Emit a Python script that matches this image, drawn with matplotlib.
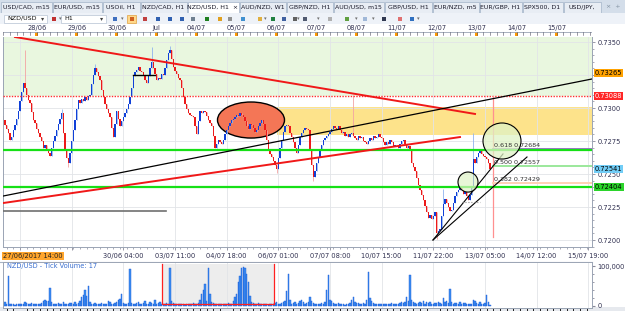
import numpy as np
import matplotlib.pyplot as plt
from matplotlib.patches import Ellipse, Rectangle

plt.rcParams['font.family'] = 'DejaVu Sans'

W, H = 625, 311

# NZD/USD H1 closes from 27/06/2017 14:00
closes = [
    0.7291, 0.7287, 0.7284, 0.7281, 0.7276, 0.7278, 0.7283, 0.7287, 0.7292, 0.7298,
    0.7305, 0.7312, 0.7319, 0.7315, 0.7310, 0.7306, 0.7304, 0.7297, 0.7291, 0.7289,
    0.7284, 0.7281, 0.7278, 0.7275, 0.7270, 0.7272, 0.7268, 0.7266, 0.7264, 0.7270,
    0.7275, 0.7279, 0.7283, 0.7288, 0.7292, 0.7296, 0.7281, 0.7268, 0.7262, 0.7258,
    0.7266, 0.7275, 0.7283, 0.7291, 0.7299, 0.7306, 0.7304, 0.7307, 0.7305, 0.7308,
    0.7306, 0.7309, 0.7310, 0.7318, 0.7325, 0.7330, 0.7327, 0.7324, 0.7321, 0.7314,
    0.7308, 0.7303, 0.7299, 0.7296, 0.7293, 0.7285, 0.7278, 0.7288, 0.7298, 0.7292,
    0.7286, 0.7290, 0.7293, 0.7296, 0.7299, 0.7303, 0.7308, 0.7315, 0.7324, 0.7327,
    0.7329, 0.7331, 0.7328, 0.7327, 0.7325, 0.7321, 0.7319, 0.7324, 0.7330, 0.7335,
    0.7330, 0.7326, 0.7321, 0.7323, 0.7322, 0.7326, 0.7325, 0.7330, 0.7336, 0.7342,
    0.7344, 0.7337, 0.7331, 0.7328, 0.7326, 0.7323, 0.7321, 0.7315, 0.7308, 0.7303,
    0.7299, 0.7296, 0.7295, 0.7294, 0.7293, 0.7286, 0.7280, 0.7290, 0.7298, 0.7296,
    0.7298, 0.7297, 0.7294, 0.7291, 0.7289, 0.7286, 0.7279, 0.7270, 0.7273, 0.7276,
    0.7274, 0.7273, 0.7276, 0.7280, 0.7283, 0.7286, 0.7289, 0.7291, 0.7292, 0.7293,
    0.7295, 0.7294, 0.7296, 0.7295, 0.7293, 0.7290, 0.7286, 0.7284, 0.7288, 0.7287,
    0.7285, 0.7282, 0.7283, 0.7286, 0.7289, 0.7291, 0.7288, 0.7283, 0.7276, 0.7268,
    0.7265, 0.7263, 0.7260, 0.7257, 0.7254, 0.7262, 0.7270, 0.7276, 0.7282, 0.7286,
    0.7287, 0.7286, 0.7281, 0.7278, 0.7274, 0.7270, 0.7266, 0.7272, 0.7278, 0.7281,
    0.7283, 0.7285, 0.7284, 0.7283, 0.7268, 0.7257, 0.7248, 0.7252, 0.7258, 0.7263,
    0.7268, 0.7272, 0.7276, 0.7277, 0.7279, 0.7280, 0.7282, 0.7284, 0.7286, 0.7285,
    0.7284, 0.7286, 0.7283, 0.7281, 0.7282, 0.7279, 0.7280, 0.7278, 0.7280, 0.7281,
    0.7279, 0.7277, 0.7276, 0.7279, 0.7277, 0.7278, 0.7275, 0.7274, 0.7273, 0.7275,
    0.7277, 0.7276, 0.7279, 0.7277, 0.7278, 0.7280, 0.7278, 0.7277, 0.7274, 0.7272,
    0.7274, 0.7273, 0.7276, 0.7274, 0.7271, 0.7272, 0.7272, 0.7270, 0.7273, 0.7275,
    0.7276, 0.7273, 0.7270, 0.7271, 0.7268, 0.7258, 0.7255, 0.7252, 0.7247, 0.7242,
    0.7238, 0.7234, 0.7230, 0.7226, 0.7221, 0.7217, 0.7219, 0.7216, 0.7218, 0.7221,
    0.7205, 0.7207, 0.7208, 0.7218, 0.7227, 0.7231, 0.7228, 0.7225, 0.7222, 0.7223,
    0.7228, 0.7233, 0.7236, 0.7238, 0.7240, 0.7238, 0.7235, 0.7236, 0.7233, 0.7230,
    0.7234, 0.7240, 0.7261, 0.7258, 0.7263, 0.7266, 0.7268, 0.7265, 0.7264, 0.7263,
    0.7261, 0.7258, 0.72541,
]
first_open = 0.7294
wick_high = {13: 0.7344, 35: 0.7299, 55: 0.7333, 89: 0.7346, 100: 0.7347,
             210: 0.7310, 264: 0.7239, 282: 0.7281}
wick_low = {39: 0.7255, 164: 0.7251, 186: 0.7245, 260: 0.7201}

# tick volume, thousands
volume_k = [
    8, 10, 5, 75, 6, 4, 5, 3, 4, 6,
    5, 4, 6, 9, 7, 5, 4, 8, 6, 5,
    4, 6, 5, 8, 12, 14, 13, 12, 45, 10,
    6, 5, 4, 7, 5, 6, 9, 5, 4, 6,
    8, 7, 5, 10, 6, 8, 12, 22, 28, 40,
    25, 50, 9, 6, 5, 7, 4, 6, 5, 8,
    6, 4, 5, 12, 9, 6, 5, 7, 10, 14,
    18, 30, 8, 6, 5, 7, 92, 8, 6, 5,
    7, 10, 6, 5, 8, 12, 6, 4, 9, 7,
    5, 14, 6, 8, 10, 5, 6, 4, 7, 5,
    95, 12, 8, 6, 5, 4, 6, 5, 4, 3,
    5, 6, 4, 5, 7, 4, 5, 8, 15, 30,
    40, 55, 12, 95, 30, 10, 8, 5, 6, 4,
    5, 4, 6, 5, 4, 7, 6, 5, 12, 22,
    30, 60, 75, 95, 97, 95, 80, 60, 25, 10,
    8, 6, 5, 7, 4, 5, 6, 4, 5, 3,
    4, 6, 5, 8, 10, 5, 4, 7, 9, 12,
    38, 80, 14, 6, 8, 10, 5, 7, 12, 15,
    9, 6, 8, 10, 22, 12, 8, 5, 6, 4,
    5, 7, 6, 9, 40, 77, 15, 12, 8, 6,
    5, 7, 6, 4, 5, 3, 6, 5, 7, 15,
    22, 10, 8, 7, 6, 5, 8, 6, 15, 85,
    20, 12, 8, 6, 5, 4, 6, 5, 4, 5,
    6, 4, 5, 7, 5, 6, 4, 5, 8, 10,
    7, 9, 22, 12, 77, 15, 10, 8, 6, 7,
    9, 8, 12, 6, 10, 7, 9, 6, 5, 8,
    7, 10, 8, 6, 20, 9, 12, 8, 42, 10,
    6, 8, 7, 5, 9, 6, 8, 7, 5, 6,
    5, 4, 15, 12, 8, 6, 9, 6, 5, 7,
    27, 10, 3,
]

price_ticks = [0.7200, 0.7225, 0.7250, 0.7275, 0.7300, 0.7325, 0.7350]
price_labels = ['0.7200', '0.7225', '0.7250', '0.7275', '0.7300', '', '0.7350']  # 0.7325 hidden under marker
grid_bars = [10, 41, 72, 103, 134, 165, 196, 227, 258, 289, 320, 351]
bottom_labels = ['', '', '30/06 04:00', '03/07 11:00', '04/07 18:00', '06/07 01:00',
                 '07/07 08:00', '10/07 15:00', '11/07 22:00', '13/07 05:00',
                 '14/07 12:00', '15/07 19:00']
day_bars = [20, 44, 68, 92, 116, 140, 164, 188, 212, 236, 260, 284, 308, 332]
top_labels = ['28/06', '29/06', '30/06', 'Jul', '04/07', '05/07', '06/07', '07/07',
              '08/07', '11/07', '12/07', '13/07', '14/07', '15/07']

# drawings on the chart
red_dotted = 0.73088
supply_zone = (0.72795, 0.73008)
green_levels = [0.72684, 0.72404]
fib_levels = [('0.618', 0.72684, '#a070d0'), ('0.500', 0.72557, '#9be89b'), ('0.382', 0.72429, '#ffd2b4')]
red_down = ([7.0, 283.0], [0.73538, 0.72955])
red_up = ([-0.2, 274.0], [0.72280, 0.72780])
black_up = ([-0.2, 353.2], [0.72333, 0.73220])
fan_a = ([257.8, 299.8], [0.72000, 0.72652])
fan_b = ([257.8, 314.2], [0.72000, 0.72629])
short_black = ([77.8, 91.0], [0.73250, 0.73250])
gray_line = ([-0.2, 97.6], [0.72220, 0.72220])
marker_labels = [('0.73265', 0.73265, '#ffa200', 'black'), ('0.73088', 0.73088, '#ff2626', 'white'),
                 ('0.72541', 0.72541, '#72cdf6', 'black'), ('0.72404', 0.72404, '#2bd42b', 'black')]

tabs = ['USD/CAD, m15', 'EUR/USD, m15', 'USOil, H1', 'NZD/CAD, H1', 'NZD/USD, H1  \u00d7',
        'AUD/NZD, W1', 'GBP/NZD, H1', 'AUD/USD, m15', 'GBP/USD, H1', 'EUR/NZD, m5',
        'EUR/GBP, H1', 'SPX500, D1', 'USD/JPY,']
tab_edges = [0, 52, 102, 140, 187, 239, 286, 333, 384, 432, 479, 522, 563, 601]

fig = plt.figure(figsize=(W / 100, H / 100), dpi=100, facecolor='white')

# window chrome
bg = fig.add_axes([0, 0, 1, 1])
bg.set_xlim(0, W); bg.set_ylim(H, 0); bg.axis('off')
bg.add_patch(Rectangle((0, 0), W, 13, fc='#d4deea', ec='none'))
for k, name in enumerate(tabs):
    x0, x1 = tab_edges[k], tab_edges[k + 1]
    active = name.startswith('NZD/USD')
    bg.add_patch(Rectangle((x0 + 0.5, 1.5), x1 - x0 - 1, 11.5, fc='white' if active else '#e8edf4',
                           ec='#a3b3c8', lw=0.5))
    bg.text((x0 + x1) / 2, 7.3, name, fontsize=4.5, ha='center', va='center', color='#1a1a2a')
bg.text(606, 6, '\u00d7  +', fontsize=4.5, color='#8090a0', va='center')
bg.add_patch(Rectangle((0, 13), W, 11, fc='#eef2f8', ec='none'))
for x0, x1, txt in [(4, 47, 'NZD/USD'), (61, 106, 'H1')]:
    bg.add_patch(Rectangle((x0, 14.5), x1 - x0, 8, fc='white', ec='#b8c4d4', lw=0.5))
    bg.text(x0 + 3, 18.5, txt, fontsize=4.6, va='center', color='#101010')
    bg.text(x1 - 4, 18.7, '\u25be', fontsize=4.5, va='center', ha='center', color='#404040')
bg.add_patch(Rectangle((127, 14.5), 9, 8, fc='#ffd88a', ec='#e0a040', lw=0.5))
icon_x = [52, 113, 130, 143, 156, 168, 180, 191, 205, 218, 228, 241, 258, 271, 282, 293,
          303, 328, 345, 363, 382, 398, 410]
icon_c = ['#c03030', '#4070c0', '#d06020', '#c04040', '#3060b0', '#3060b0', '#3060b0', '#708090',
          '#208020', '#e0a020', '#909090', '#4090d0', '#e0b040', '#208040', '#4060a0', '#606060',
          '#505a70', '#b0b0b0', '#60a040', '#a0b8d8', '#303850', '#e07070', '#3070c0']
for xi, ci in zip(icon_x, icon_c):
    bg.add_patch(Rectangle((xi, 16.5), 4, 4, fc=ci, ec='none'))
for xi in [60, 122, 265, 298, 318, 356, 373, 418]:
    bg.text(xi, 18.7, '\u25be', fontsize=3.8, va='center', ha='center', color='#707070')
bg.add_patch(Rectangle((0, 24), W, 13, fc='white', ec='none'))
bg.add_patch(Rectangle((0, 307), W, 4, fc='#e6e9ee', ec='none'))
bg.plot([0, 592], [261.5, 261.5], color='#a8b4c4', lw=0.8)

x = np.arange(len(closes))
closes_a = np.array(closes)
opens = np.r_[first_open, closes_a[:-1]]
highs = np.maximum(opens, closes_a)
lows = np.minimum(opens, closes_a)
for i, v in wick_high.items():
    highs[i] = v
for i, v in wick_low.items():
    lows[i] = v
up = closes_a >= opens

# price pane
ax = fig.add_axes([3 / W, (H - 247) / H, 589 / W, 210 / H])
ax.set_xlim(-0.2, 353.2)
ax.set_ylim(0.71947, 0.73538)
ax.set_axisbelow(True)
ax.grid(True, color='#e2e4e8', lw=0.6)
ax.axhspan(red_dotted, 0.74, color='#e9f7df', zorder=0.1, lw=0)
ax.fill_between([164.2, 353.2], supply_zone[0], supply_zone[1], color='#fde38b', zorder=0.2, lw=0)
ax.add_patch(Ellipse((148.6, 0.72909), 40.2, 0.00273, fc='#f47656', ec='black', lw=1, zorder=1))

ax.vlines(x[up], lows[up], highs[up], color='#8fb2ee', lw=0.6, zorder=2)
ax.vlines(x[~up], lows[~up], highs[~up], color='#f3a3a3', lw=0.6, zorder=2)
body = np.maximum(np.abs(closes_a - opens), 0.00003)
ax.bar(x[up], body[up], bottom=opens[up], width=0.7, color='#1040d8', lw=0, zorder=2.2)
ax.bar(x[~up], body[~up], bottom=closes_a[~up], width=0.7, color='#ec1a1a', lw=0, zorder=2.2)

ax.axhline(red_dotted, color='#ff3030', ls=(0, (1, 1)), lw=1, zorder=3)
for lvl in green_levels:
    ax.axhline(lvl, color='#16e016', lw=1.6, zorder=3.2)
for name, lvl, col in fib_levels:
    ax.plot([293.8, 353.2], [lvl + 0.00005, lvl + 0.00005], color=col, lw=1.4, zorder=3.1)
    ax.text(294.5, lvl + 0.00012, f'{name} {lvl:.5f}', fontsize=4.6, color='#303030',
            va='bottom', zorder=5)
ax.plot([293.8, 293.8], [red_dotted, 0.72023], color='#ff9090', lw=0.9, zorder=3)
ax.plot(*red_down, color='#f01818', lw=1.4, zorder=3.3)
ax.plot(*red_up, color='#f01818', lw=1.4, zorder=3.3)
ax.plot(*black_up, color='black', lw=0.9, zorder=3.4)
ax.plot(*fan_a, color='black', lw=0.8, zorder=3.4)
ax.plot(*fan_b, color='black', lw=0.8, zorder=3.4)
ax.plot(*short_black, color='black', lw=1.0, zorder=3.4)
ax.plot(*gray_line, color='#707070', lw=1.2, zorder=3.4)
ax.plot([275, 286], [0.72288, 0.72288], color='#909090', lw=0.8, ls=':', zorder=3.4)
ax.add_patch(Ellipse((299.2, 0.72750), 22.8, 0.00273, fc='#dff3c6', ec='none', alpha=0.75, zorder=4))
ax.add_patch(Ellipse((299.2, 0.72750), 22.8, 0.00273, fc='none', ec='black', lw=0.8, zorder=4))
ax.add_patch(Ellipse((278.8, 0.72439), 12.0, 0.00152, fc='#dff3c6', ec='none', alpha=0.7, zorder=4))
ax.add_patch(Ellipse((278.8, 0.72439), 12.0, 0.00152, fc='none', ec='black', lw=0.8, zorder=4))

ax.yaxis.tick_right()
ax.set_yticks(price_ticks)
ax.set_yticklabels(price_labels)
ax.set_yticks(np.arange(0.7195, 0.7354, 0.0005), minor=True)
ax.set_xticks(grid_bars)
ax.set_xticklabels(bottom_labels)
ax.set_xticks(np.arange(2, 353, 4), minor=True)
ax.tick_params(axis='both', which='major', labelsize=4.8, labelcolor='#303050', color='#8a8a9a',
               length=2.5, width=0.6, pad=1.5)
ax.tick_params(axis='both', which='minor', length=1.3, width=0.5, color='#8a8a9a')
ax.tick_params(axis='x', pad=2)
for s in ax.spines.values():
    s.set_color('#9aa4b4'); s.set_linewidth(0.7)
ax.spines['top'].set_visible(False)
ax.text(0, -0.043, '27/06/2017 14:00', transform=ax.transAxes, fontsize=4.8, ha='left', va='center',
        color='#202020', bbox=dict(boxstyle='square,pad=0.15', fc='#ffa52c', ec='none'))
for txt, lvl, fc, tc in marker_labels:
    ax.text(1.005, lvl, txt, transform=ax.get_yaxis_transform(), fontsize=4.8, ha='left', va='center',
            color=tc, bbox=dict(boxstyle='square,pad=0.15', fc=fc, ec='none'), zorder=6, clip_on=False)

# time ruler on top
axt = fig.add_axes([3 / W, (H - 37) / H, 589 / W, 13 / H], sharex=ax)
axt.axis('off')
axt.plot([-0.2, 353.2], [0.38, 0.38], color='#9aa4b4', lw=0.6)
for b in np.arange(0, 354, 4):
    axt.plot([b, b], [0.38, 0.12], color='#505060', lw=0.4)
for b, lab in zip(day_bars, top_labels):
    axt.text(b, 0.72, lab, fontsize=4.8, ha='center', va='center', color='#303050')
    axt.add_patch(Rectangle((b - 0.8, 0.05), 1.6, 0.33, fc='#ff9a00', ec='none'))
axt.set_ylim(0, 1)

# tick volume pane
axv = fig.add_axes([3 / W, (H - 308) / H, 589 / W, 46 / H], sharex=ax)
axv.set_ylim(-5000, 110000)
axv.set_axisbelow(True)
axv.set_xticks(grid_bars)
axv.grid(True, axis='x', color='#e2e4e8', lw=0.6)
axv.tick_params(axis='x', length=0, labelbottom=False)
tr = axv.get_xaxis_transform()
axv.add_patch(Rectangle((95.2, 0.09), 67.2, 0.865, transform=tr, fc='#ededed', ec='none', zorder=0.3))
axv.plot([95.2, 95.2, 162.4, 162.4], [0.955, 0.09, 0.09, 0.955], transform=tr, color='#ff2020', lw=0.9, zorder=3)
axv.bar(x, np.array(volume_k) * 1000, width=0.85, color='#3d8ff0', edgecolor='#1858d8', lw=0.3, zorder=2)
axv.yaxis.tick_right()
axv.set_yticks([0, 100000])
axv.set_yticklabels(['0', '100,000'])
axv.set_yticks(np.arange(0, 100001, 20000), minor=True)
axv.tick_params(axis='y', which='major', labelsize=4.8, labelcolor='#303050', color='#8a8a9a', length=2.5, pad=1.5)
axv.tick_params(axis='y', which='minor', length=1.3, color='#8a8a9a')
for s in axv.spines.values():
    s.set_color('#9aa4b4'); s.set_linewidth(0.7)
axv.text(0.007, 0.91, 'NZD/USD - Tick Volume: 17', transform=axv.transAxes, fontsize=4.8,
         color='#3a6fd0', va='center')

fig.savefig('out.png', dpi=100)
